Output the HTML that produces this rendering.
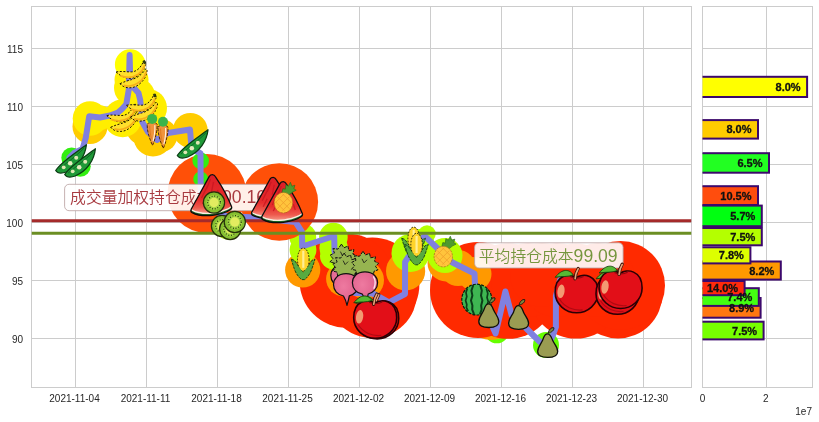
<!DOCTYPE html>
<html lang="zh"><head><meta charset="utf-8"><title>chart</title>
<style>
html,body{margin:0;padding:0;background:#fff;}
body{width:819px;height:422px;overflow:hidden;font-family:"Liberation Sans","Noto Sans CJK SC",sans-serif;}
svg{display:block;}
</style></head><body>
<svg width="819" height="422" viewBox="0 0 819 422">
<defs>
<linearGradient id="gBan" x1="0" y1="0" x2="0.4" y2="1"><stop offset="0" stop-color="#ffe23c"/><stop offset="0.55" stop-color="#ffd21e"/><stop offset="1" stop-color="#f0a000"/></linearGradient>
<linearGradient id="gWs" x1="0" y1="0" x2="0" y2="1"><stop offset="0" stop-color="#dc1c26"/><stop offset="0.68" stop-color="#e62c2c"/><stop offset="0.88" stop-color="#ee5a4e"/><stop offset="1" stop-color="#f49080"/></linearGradient>
<radialGradient id="gRad" cx="0.4" cy="0.4" r="0.7"><stop offset="0" stop-color="#ee7aa0"/><stop offset="1" stop-color="#dc5a86"/></radialGradient>
<symbol id="peas" overflow="visible">
 <path d="M-15.5,11.5 C-10,3 3,-5 15.2,-14.2 C14,-3 7,8 -5,13 C-10,14.8 -14,13.8 -15.5,11.5Z" fill="#1f9a38" stroke="#0b3d14" stroke-width="1.3" stroke-linejoin="round"/>
 <path d="M-12,10 C-6,5 4,-2 13,-11" fill="none" stroke="#0b5a1e" stroke-width="0.8"/>
 <circle cx="-7.5" cy="8.3" r="1.9" fill="#dfe8b4"/><circle cx="-1" cy="4.2" r="2.3" fill="#e8ecc0"/><circle cx="5" cy="-1.2" r="2" fill="#dfe8b4"/>
</symbol>
<symbol id="banana" overflow="visible">
 <path d="M-15.2,-2.4 C-10,2.6 -4,4.4 0.5,3.9 C7,2.8 12,-3 14.4,-10 L13.6,-12.8 L11.8,-12.2 C9,-6.2 5,-2.6 0,-2.5 C-5,-2.4 -10,-3.6 -15.2,-2.4Z" fill="#ffe02c" stroke="#1e1400" stroke-width="1" stroke-dasharray="2 1.6" stroke-linejoin="round"/>
 <path d="M-11,1.4 C-5,3.6 2,3.2 7,-0.2 C10,-2.4 12.2,-5.6 13.4,-9.2" fill="none" stroke="#f7b01a" stroke-width="1.9"/>
 <path d="M-11.3,9.3 C-7,7.2 -3,6.2 0,5.3 C6,3.6 11,0 14.3,-5.6 L15.8,-4.4 C15.8,2 10.2,10 3,12.6 C-2,14.3 -8,13.4 -11.3,9.3Z" fill="#ffe02c" stroke="#1e1400" stroke-width="1" stroke-dasharray="2 1.6" stroke-linejoin="round"/>
 <path d="M-7.6,11 C-2,12.6 5,10.8 10,6 C12.4,3.6 14.2,0.4 15,-2.6" fill="none" stroke="#f7b01a" stroke-width="1.9"/>
 <path d="M11.6,-13.4 L13.6,-13.8 L14.6,-11 L12.6,-10.8Z" fill="#2c4a10" stroke="#111" stroke-width="0.6"/>
</symbol>
<symbol id="carrot" overflow="visible">
 <path d="M-4.9,-5.6 C-3,-7.8 3,-7.8 4.9,-5.6 C5.6,-1 3.4,9 0.3,15.8 C-3,9 -5.6,-1 -4.9,-5.6Z" fill="#f0943c" stroke="#3c1e00" stroke-width="0.9" stroke-dasharray="3 1.2"/>
 <path d="M2.6,-4.5 C3,1 2,7 0.9,11.6" fill="none" stroke="#fff3e0" stroke-width="1.1"/>
 <path d="M-2.4,-4 C-2.6,0 -1.8,5 -0.8,9" fill="none" stroke="#e07a20" stroke-width="1"/>
 <circle cx="0" cy="-10.7" r="5" fill="#3cb44a"/>
</symbol>
<clipPath id="wsclip"><path d="M1,-20.4 C2.3,-20.4 3.2,-19.6 4,-18.2 Q14.5,-3 20,11.6 C20.5,13 20.2,14 18.8,14.8 C11,19.8 -8,23.6 -19.4,17.6 C-20.8,16.8 -20.9,15.4 -20.2,14 L-2.2,-18.6 C-1.4,-19.9 -0.4,-20.4 1,-20.4Z"/></clipPath>
<symbol id="wslice" overflow="visible">
 <g clip-path="url(#wsclip)">
  <path d="M1,-20.4 C2.3,-20.4 3.2,-19.6 4,-18.2 Q14.5,-3 20,11.6 C20.5,13 20.2,14 18.8,14.8 C11,19.8 -8,23.6 -19.4,17.6 C-20.8,16.8 -20.9,15.4 -20.2,14 L-2.2,-18.6 C-1.4,-19.9 -0.4,-20.4 1,-20.4Z" fill="#1c6a26"/>
  <path d="M1,-20.4 C2.3,-20.4 3.2,-19.6 4,-18.2 Q14.5,-3 20,11.6 C20.5,13 20.2,14 18.8,14.8 C11,19.8 -8,23.6 -19.4,17.6 C-20.8,16.8 -20.9,15.4 -20.2,14 L-2.2,-18.6 C-1.4,-19.9 -0.4,-20.4 1,-20.4Z" fill="#f8efe2" transform="translate(0,-1.6)"/>
  <path d="M1,-20.4 C2.3,-20.4 3.2,-19.6 4,-18.2 Q14.5,-3 20,11.6 C20.5,13 20.2,14 18.8,14.8 C11,19.8 -8,23.6 -19.4,17.6 C-20.8,16.8 -20.9,15.4 -20.2,14 L-2.2,-18.6 C-1.4,-19.9 -0.4,-20.4 1,-20.4Z" fill="url(#gWs)" transform="translate(0,-3)"/>
  <path d="M-4,-9 L-10,3 M2,-13 L0,-3 M6,-5 L9,5 M-5,1 L-9,9 M3,3 L4,11 M-1,-16 L-5,-6 M11,2 L13,8" stroke="#c41420" stroke-width="1.3" fill="none" opacity="0.75"/>
 </g>
 <path d="M1,-20.4 C2.3,-20.4 3.2,-19.6 4,-18.2 Q14.5,-3 20,11.6 C20.5,13 20.2,14 18.8,14.8 C11,19.8 -8,23.6 -19.4,17.6 C-20.8,16.8 -20.9,15.4 -20.2,14 L-2.2,-18.6 C-1.4,-19.9 -0.4,-20.4 1,-20.4Z" fill="none" stroke="#0c0c0c" stroke-width="1.3" stroke-linejoin="round"/>
</symbol>
<symbol id="kiwi" overflow="visible">
 <circle r="10.6" fill="#84be30" stroke="#26300a" stroke-width="1.2"/>
 <circle r="7.6" fill="#a2d444"/>
 <circle r="6.4" fill="none" stroke="#1e2a08" stroke-width="1.2" stroke-dasharray="0.9 1.8"/>
 <circle r="4.7" fill="#e2ec60"/>
</symbol>
<symbol id="pine" overflow="visible">
 <path d="M-1.5,-10 L-0.5,-14 L2,-13.5 L2.5,-18 L5,-16.5 L7,-20.4 L8.5,-16.5 L11.5,-17.5 L10.5,-14 L12.8,-12.5 L9,-10.5 L6,-8 L2,-9 Z" fill="#4e9a2e" stroke="#2c641a" stroke-width="0.6" stroke-linejoin="round"/>
 <ellipse cx="0" cy="0" rx="9.2" ry="10.3" fill="#ffc43c" stroke="#b4781e" stroke-width="0.9" stroke-dasharray="2 1.2"/>
 <path d="M-6,-6 L6,6 M-8,-1 L1,8 M-1,-9 L8,0 M6,-6 L-6,6 M8,-1 L-1,8 M1,-9 L-8,0" stroke="#f0a02c" stroke-width="0.8" fill="none"/>
</symbol>
<symbol id="corn" overflow="visible">
 <path d="M-11.8,-4.6 L-8.6,-3.4 C-5.6,1 -2.4,5 0.1,9 C2.6,5 5.8,1 8.8,-3.4 L11.9,-4.6 C10.8,-1 9.8,2 8.8,5 C7.2,10 4,14 1.6,15.8 L-1.4,15.8 C-4,14 -7.2,10 -8.8,5 C-9.8,2 -10.8,-1 -11.8,-4.6Z" fill="#58aa40" stroke="#143c14" stroke-width="0.9" stroke-linejoin="round" stroke-dasharray="3 1"/>
 <ellipse cx="0.2" cy="-4.2" rx="5.8" ry="11.5" fill="#ffd42a" stroke="#1e1e00" stroke-width="1" stroke-dasharray="1.6 1.4"/>
 <path d="M0.2,-13 L0.2,4" stroke="#ffee96" stroke-width="2.2" fill="none"/>
<path d="M-5.6,3 C-3.4,5.6 -1.4,8 0.1,10.4 C1.6,8 3.6,5.6 5.8,3" fill="none" stroke="#58aa40" stroke-width="1.6" stroke-linejoin="round"/>
</symbol>
<symbol id="radish" overflow="visible">
 <path d="M-2,-31.5 L0.5,-27.8 L4.5,-29.5 L5.5,-25 L10.5,-26 L9.5,-21.5 L13.6,-19.5 L10.5,-16.5 L13,-13 L9,-11.5 L8.5,-8.5 L3,-9.5 L0,-7.5 L-3.5,-9.8 L-8.5,-8.5 L-9,-12.5 L-13.5,-13.5 L-10.5,-17 L-13.2,-20.5 L-9,-22.5 L-10.5,-27 L-5.5,-26.5 Z" fill="#96b450" stroke="#111" stroke-width="1" stroke-linejoin="round" stroke-dasharray="3.4 1"/>
 <path d="M-3,-24 L-1,-20 L2,-23" fill="none" stroke="#111" stroke-width="0.8"/>
 <path d="M0,-10.9 C8.5,-10.9 12.6,-5.5 12.6,0 C12.6,6 8,10 3.2,11.2 C2.6,14.5 1.8,17.5 0.9,20.8 C0.2,17.5 -0.8,14.5 -2.6,11.4 C-8.4,10.4 -12.6,6 -12.6,0 C-12.6,-5.5 -8.5,-10.9 0,-10.9Z" fill="url(#gRad)" stroke="#111" stroke-width="1.2" stroke-linejoin="round"/>
 <path d="M8.6,-6 C10.4,-3 10.6,1.5 9,5.5" fill="none" stroke="#fbe4ee" stroke-width="1.4" stroke-linecap="round"/>
</symbol>
<symbol id="apple" overflow="visible">
 <path d="M-0.5,-15.5 C-7,-20.5 -21.5,-19 -21.5,-1 C-21.5,11 -11,19.5 0,19.5 C11,19.5 21.5,11 21.5,-1 C21.5,-19 6,-20.5 -0.5,-15.5Z" fill="#e20f18" stroke="#2a0004" stroke-width="1.6"/>
 <path d="M-17,6 C-12,14 -3,17.5 6,16.6" fill="none" stroke="#b00a12" stroke-width="1.2"/>
 <path d="M-6,-16.5 C-3,-14.6 3,-14.6 7,-16.8" fill="none" stroke="#8c0a10" stroke-width="1.2"/>
 <ellipse cx="-15.6" cy="-2" rx="3.6" ry="6.8" fill="#f39a72" transform="rotate(8 -15.6 -2)"/>
 <path d="M-1.6,-14.5 C-1.2,-18.5 -0.2,-22 1.6,-24.8" fill="none" stroke="#3c1408" stroke-width="3.2" stroke-linecap="round"/>
 <path d="M-1.5,-14.5 C-1.1,-18.5 -0.1,-21.8 1.6,-24.5" fill="none" stroke="#e8a47c" stroke-width="1.6" stroke-linecap="round"/>
 <path d="M-3.4,-18.4 C-7,-24.4 -14.5,-25 -21.4,-16 C-14,-17.4 -9,-16 -3.4,-18.4Z" fill="#56b934" stroke="#14400c" stroke-width="0.9" stroke-linejoin="round"/>
</symbol>
<symbol id="wmelon" overflow="visible">
 <ellipse cx="0" cy="0" rx="15" ry="15.4" fill="#3eb652" stroke="#0a1e0a" stroke-width="1.2" stroke-dasharray="3 1.2"/>
 <path d="M-9.5,-11 L-10.8,-7 L-10,-3 L-11.2,1 L-10,5 L-10.4,8 L-8.6,11.5" fill="none" stroke="#0c3c18" stroke-width="1.7" stroke-linejoin="round"/>
 <path d="M-3.5,-14.6 L-5.4,-9 L-4.4,-4 L-5.8,1 L-4.4,6 L-4.6,10 L-2.8,14.6" fill="none" stroke="#0c3c18" stroke-width="2" stroke-linejoin="round"/>
 <path d="M3.5,-14.6 L5,-9 L4.2,-4 L5.6,1 L4.4,6 L4.8,10 L3.2,14.6" fill="none" stroke="#0c3c18" stroke-width="2" stroke-linejoin="round"/>
 <path d="M9.6,-11 L11,-6 L10.2,-2 L11.4,2 L10.2,6 L10.4,9 L9,11.4" fill="none" stroke="#0c3c18" stroke-width="1.7" stroke-linejoin="round"/>
</symbol>
<symbol id="pear" overflow="visible">
 <path d="M-0.3,-8.6 C2.6,-8.6 3.6,-5.6 4.8,-2.4 C6.4,1.6 10,4.6 10,9 C10,13.4 6,15 0,15 C-6,15 -10,13.4 -10,9 C-10,4.6 -6.6,1.6 -5,-2.4 C-3.8,-5.6 -3.2,-8.6 -0.3,-8.6Z" fill="#9a9c52" stroke="#0f0f0a" stroke-width="1.3"/>
 <path d="M0.4,-9.2 C1.2,-13 4,-15.4 6.2,-14.6 C6.4,-12 4,-10 0.4,-9.2Z" fill="#7c8440" stroke="#0f0f0a" stroke-width="0.9" stroke-linejoin="round"/>
</symbol>

<clipPath id="bxclip"><rect x="702.5" y="6.5" width="110.0" height="381.0"/></clipPath>
<clipPath id="axclip"><rect x="31.5" y="6.5" width="660.0" height="381.0"/></clipPath>
</defs>
<rect width="819" height="422" fill="#ffffff"/>
<g stroke="#cccccc" stroke-width="1" shape-rendering="crispEdges"><line x1="75.5" y1="6.5" x2="75.5" y2="387.5"/><line x1="146.5" y1="6.5" x2="146.5" y2="387.5"/><line x1="217.5" y1="6.5" x2="217.5" y2="387.5"/><line x1="288.5" y1="6.5" x2="288.5" y2="387.5"/><line x1="359.5" y1="6.5" x2="359.5" y2="387.5"/><line x1="430.5" y1="6.5" x2="430.5" y2="387.5"/><line x1="501.5" y1="6.5" x2="501.5" y2="387.5"/><line x1="572.5" y1="6.5" x2="572.5" y2="387.5"/><line x1="643.5" y1="6.5" x2="643.5" y2="387.5"/><line x1="31.5" y1="48.5" x2="691.5" y2="48.5"/><line x1="702.5" y1="48.5" x2="812.5" y2="48.5"/><line x1="31.5" y1="106.5" x2="691.5" y2="106.5"/><line x1="702.5" y1="106.5" x2="812.5" y2="106.5"/><line x1="31.5" y1="164.5" x2="691.5" y2="164.5"/><line x1="702.5" y1="164.5" x2="812.5" y2="164.5"/><line x1="31.5" y1="222.5" x2="691.5" y2="222.5"/><line x1="702.5" y1="222.5" x2="812.5" y2="222.5"/><line x1="31.5" y1="280.5" x2="691.5" y2="280.5"/><line x1="702.5" y1="280.5" x2="812.5" y2="280.5"/><line x1="31.5" y1="338.5" x2="691.5" y2="338.5"/><line x1="702.5" y1="338.5" x2="812.5" y2="338.5"/><line x1="766.5" y1="6.5" x2="766.5" y2="387.5"/></g>
<rect x="31.5" y="6.5" width="660.0" height="381.0" fill="none" stroke="#cccccc" stroke-width="1" shape-rendering="crispEdges"/><rect x="702.5" y="6.5" width="110.0" height="381.0" fill="none" stroke="#cccccc" stroke-width="1" shape-rendering="crispEdges"/>
<g clip-path="url(#axclip)">
<g id="scatter"><circle cx="546" cy="345" r="13" fill="#66ff00"/><circle cx="496.8" cy="331" r="12.3" fill="#66ff00"/><circle cx="491.5" cy="308" r="32" fill="#ff9900"/><circle cx="618" cy="294" r="44.4" fill="#ff2a00"/><circle cx="372" cy="293" r="45" fill="#ff2a00"/><circle cx="508" cy="291" r="47.8" fill="#ff2a00"/><circle cx="576" cy="291" r="47.5" fill="#ff2a00"/><circle cx="478" cy="290" r="48" fill="#ff2a00"/><circle cx="620.6" cy="285.4" r="44.4" fill="#ff2a00"/><circle cx="372.3" cy="284.6" r="47.1" fill="#ff2a00"/><circle cx="346.7" cy="280.6" r="47.2" fill="#ff2a00"/><circle cx="528" cy="280" r="37" fill="#ff2a00"/><circle cx="557" cy="280" r="37" fill="#ff2a00"/><circle cx="598" cy="280" r="37" fill="#ff2a00"/><circle cx="365" cy="280" r="19" fill="#ff9900"/><circle cx="343.4" cy="279" r="17.3" fill="#ff9900"/><circle cx="542" cy="275" r="32" fill="#ff2a00"/><circle cx="474.5" cy="274" r="17" fill="#ff9900"/><circle cx="405.6" cy="271" r="19.6" fill="#ff9900"/><circle cx="302.7" cy="270" r="17.6" fill="#ff9900"/><circle cx="458" cy="268" r="18" fill="#ff9900"/><circle cx="446" cy="263" r="18.5" fill="#ff9900"/><circle cx="333.5" cy="256" r="13.5" fill="#b4ff00"/><circle cx="445" cy="255.5" r="17.5" fill="#b4ff00"/><circle cx="410.5" cy="253" r="19" fill="#b4ff00"/><circle cx="303" cy="250" r="13.4" fill="#b4ff00"/><circle cx="333.6" cy="248" r="14.2" fill="#b4ff00"/><circle cx="420" cy="243" r="14" fill="#b4ff00"/><circle cx="302.8" cy="237" r="13.4" fill="#b4ff00"/><circle cx="333.4" cy="237" r="14.3" fill="#b4ff00"/><circle cx="427" cy="234" r="8.7" fill="#b4ff00"/><circle cx="228" cy="226" r="13.5" fill="#b4ff00"/><circle cx="279.3" cy="202" r="38.8" fill="#ff5008"/><circle cx="207" cy="193.5" r="39.5" fill="#ff5008"/><circle cx="200.7" cy="179" r="7.5" fill="#33ee11"/><circle cx="80.2" cy="166.3" r="10.5" fill="#33ee11"/><circle cx="200.7" cy="160.8" r="8.3" fill="#33ee11"/><circle cx="71.6" cy="157.7" r="10.3" fill="#33ee11"/><circle cx="153" cy="137" r="19.5" fill="#ffcc00"/><circle cx="161" cy="135.5" r="16.5" fill="#ffcc00"/><circle cx="190.3" cy="130.3" r="17.4" fill="#ffcc00"/><circle cx="143" cy="128" r="17" fill="#ffcc00"/><circle cx="90" cy="126.5" r="17.5" fill="#ffcc00"/><circle cx="90" cy="118.5" r="17.3" fill="#ffee00"/><circle cx="122.7" cy="118.3" r="19" fill="#ffee00"/><circle cx="100" cy="117.7" r="12.5" fill="#ffee00"/><circle cx="148" cy="108" r="19" fill="#ffee00"/><circle cx="141" cy="104" r="17" fill="#ffee00"/><circle cx="137" cy="96" r="18" fill="#ffee00"/><circle cx="131.5" cy="88" r="17.5" fill="#ffee00"/><circle cx="131.5" cy="80" r="17" fill="#ffee00"/><circle cx="130.2" cy="64.6" r="15.3" fill="#ffff00"/></g>
<polyline points="69.5,157.5 74,153 82.5,149 85.7,138.2 89.2,116.3 100,117.5 110,115.5 118,112.5 122,109 126.3,104.3 128.8,89.6 129.6,55 130.3,79.3 134,88 138.5,93 140.2,100 142.3,122 148,132 157,140 168,133 190,129.5 191.5,148 200.5,153.4 200.7,195 206,206 220,213.5 228,216.5 246,217 256,217.8 295.5,222 302,232 302.2,246.5 334.2,236 334.5,251 340,275 355,293 373,293.5 389,302.3 405,294 405.1,262 409,256 424.5,235.8 435,246 452,262.3 466,269.3 474.5,273.7 475,285 485,310 495.6,333.4 505.4,291.5 511.6,315 526.4,328.5 540,342 548,346 553,335 555.9,327 555.9,296 560,280" fill="none" stroke="#8080e0" stroke-width="6" stroke-linejoin="round" stroke-linecap="round"/>
<line x1="31.5" y1="220.7" x2="691.5" y2="220.7" stroke="#a52a2a" stroke-width="3"/><line x1="31.5" y1="233.2" x2="691.5" y2="233.2" stroke="#6b8e23" stroke-width="3"/>
</g>
<rect x="64.6" y="184.3" width="205.6" height="26.4" rx="4.5" ry="4.5" fill="#ffffff" fill-opacity="0.91" stroke="#b8a0a0" stroke-opacity="0.9" stroke-width="0.9"/><text x="70.1" y="203.1" fill="#a83a40" font-family="'Liberation Sans', 'Noto Sans CJK SC', sans-serif"><tspan font-size="15.8px" font-weight="350">成交量加权持仓成本</tspan><tspan font-size="17.6px" dy="0.3">100.16</tspan></text><rect x="474.6" y="242.8" width="148.5" height="25.2" rx="4.5" ry="4.5" fill="#ffffff" fill-opacity="0.91" stroke="#b8a0a0" stroke-opacity="0.9" stroke-width="0.9"/><text x="478.8" y="261.6" fill="#76963e" font-family="'Liberation Sans', 'Noto Sans CJK SC', sans-serif"><tspan font-size="15.8px" font-weight="350">平均持仓成本</tspan><tspan font-size="17.6px" dy="0.3">99.09</tspan></text>
<g id="fruits"><use href="#peas" transform="translate(71.2,159) scale(1)"/><use href="#peas" transform="translate(80.2,163) scale(1)"/><use href="#banana" transform="translate(122,118) scale(1)"/><use href="#banana" transform="translate(131.3,74.4) scale(1)"/><use href="#banana" transform="translate(141.7,107.7) scale(1)"/><use href="#carrot" transform="translate(152.2,129.6) scale(1)"/><use href="#carrot" transform="translate(163,132.5) scale(1)"/><use href="#peas" transform="translate(192.8,144) scale(1)"/><use href="#wslice" transform="translate(211.5,195) scale(1)"/><use href="#kiwi" transform="translate(214,202.5) scale(1)"/><use href="#kiwi" transform="translate(222,226) scale(1)"/><use href="#kiwi" transform="translate(230.2,229) scale(1)"/><use href="#kiwi" transform="translate(234.8,222) scale(1)"/><use href="#wslice" transform="translate(272.2,197.8) scale(1)"/><use href="#wslice" transform="translate(282.3,202) scale(1)"/><use href="#pine" transform="translate(283.4,202.7) scale(1)"/><use href="#corn" transform="translate(303.1,263.8) scale(1)"/><use href="#radish" transform="translate(343.4,275.6) scale(1)"/><use href="#radish" transform="translate(346.1,284.6) scale(1)"/><use href="#radish" transform="translate(365,282.8) scale(1)"/><use href="#apple" transform="translate(377.2,319.4) scale(1)"/><use href="#apple" transform="translate(375.2,318.8) scale(1)"/><use href="#corn" transform="translate(413.5,242.8) scale(1)"/><use href="#corn" transform="translate(416.4,249) scale(1)"/><use href="#pine" transform="translate(443.3,256.6) scale(1)"/><use href="#wmelon" transform="translate(476.8,299.6) scale(1)"/><use href="#pear" transform="translate(488.8,312.5) scale(1)"/><use href="#pear" transform="translate(518.6,314.3) scale(1)"/><use href="#pear" transform="translate(547.7,342.4) scale(1)"/><use href="#apple" transform="translate(576.6,293.3) scale(1)"/><use href="#apple" transform="translate(617.5,294.8) scale(1)"/><use href="#apple" transform="translate(620.6,289) scale(1)"/></g>
<g clip-path="url(#bxclip)" font-family="'Liberation Sans', sans-serif" font-size="11px" font-weight="bold" fill="#111" ><rect x="699.5" y="321.7" width="64.1" height="17.7" fill="#77ff00" stroke="#3c096c" stroke-width="2"/><rect x="699.5" y="298.0" width="61.1" height="19.7" fill="#ff7711" stroke="#3c096c" stroke-width="2"/><rect x="699.5" y="288.2" width="59.3" height="17.7" fill="#44ff11" stroke="#3c096c" stroke-width="2"/><rect x="699.5" y="281.0" width="45.1" height="14.2" fill="#ff2a0d" stroke="#3c096c" stroke-width="2"/><rect x="699.5" y="261.5" width="81.3" height="18.1" fill="#ff9900" stroke="#3c096c" stroke-width="2"/><rect x="699.5" y="247.3" width="50.9" height="16.1" fill="#ddff00" stroke="#3c096c" stroke-width="2"/><rect x="699.5" y="228.0" width="62.3" height="17.3" fill="#b4ff00" stroke="#3c096c" stroke-width="2"/><rect x="699.5" y="205.6" width="62.3" height="20.6" fill="#00ff11" stroke="#3c096c" stroke-width="2"/><rect x="699.5" y="186.2" width="58.5" height="18.8" fill="#ff4d0d" stroke="#3c096c" stroke-width="2"/><rect x="699.5" y="153.2" width="69.5" height="19.5" fill="#22ff22" stroke="#3c096c" stroke-width="2"/><rect x="699.5" y="120.1" width="58.5" height="18.5" fill="#ffcc00" stroke="#3c096c" stroke-width="2"/><rect x="699.5" y="76.8" width="107.6" height="20.2" fill="#ffff00" stroke="#3c096c" stroke-width="2"/><text x="800.6" y="90.9" text-anchor="end" stroke="#111" stroke-width="0.3">8.0%</text><text x="751.5" y="133.3" text-anchor="end" stroke="#111" stroke-width="0.3">8.0%</text><text x="762.5" y="166.9" text-anchor="end" stroke="#111" stroke-width="0.3">6.5%</text><text x="751.5" y="199.6" text-anchor="end" stroke="#111" stroke-width="0.3">10.5%</text><text x="755.3" y="219.9" text-anchor="end" stroke="#111" stroke-width="0.3">5.7%</text><text x="755.3" y="240.7" text-anchor="end" stroke="#111" stroke-width="0.3">7.5%</text><text x="743.9" y="259.4" text-anchor="end" stroke="#111" stroke-width="0.3">7.8%</text><text x="774.3" y="274.6" text-anchor="end" stroke="#111" stroke-width="0.3">8.2%</text><text x="738.1" y="292.1" text-anchor="end" stroke="#111" stroke-width="0.3">14.0%</text><text x="752.3" y="301.0" text-anchor="end" stroke="#111" stroke-width="0.3">7.4%</text><text x="754.1" y="311.9" text-anchor="end" stroke="#111" stroke-width="0.3">8.9%</text><text x="757.1" y="334.5" text-anchor="end" stroke="#111" stroke-width="0.3">7.5%</text></g>
<g font-family="'Liberation Sans', sans-serif" font-size="10px" fill="#262626"><text x="74.5" y="402" text-anchor="middle">2021-11-04</text><text x="145.5" y="402" text-anchor="middle">2021-11-11</text><text x="216.5" y="402" text-anchor="middle">2021-11-18</text><text x="287.5" y="402" text-anchor="middle">2021-11-25</text><text x="358.5" y="402" text-anchor="middle">2021-12-02</text><text x="429.5" y="402" text-anchor="middle">2021-12-09</text><text x="500.5" y="402" text-anchor="middle">2021-12-16</text><text x="571.5" y="402" text-anchor="middle">2021-12-23</text><text x="642.5" y="402" text-anchor="middle">2021-12-30</text><text x="23" y="52.8" text-anchor="end">115</text><text x="23" y="110.9" text-anchor="end">110</text><text x="23" y="169.0" text-anchor="end">105</text><text x="23" y="227.1" text-anchor="end">100</text><text x="23" y="285.2" text-anchor="end">95</text><text x="23" y="343.3" text-anchor="end">90</text><text x="702.5" y="402" text-anchor="middle">0</text><text x="765.8" y="402" text-anchor="middle">2</text><text x="812" y="414.5" text-anchor="end">1e7</text></g>
</svg>
</body></html>
